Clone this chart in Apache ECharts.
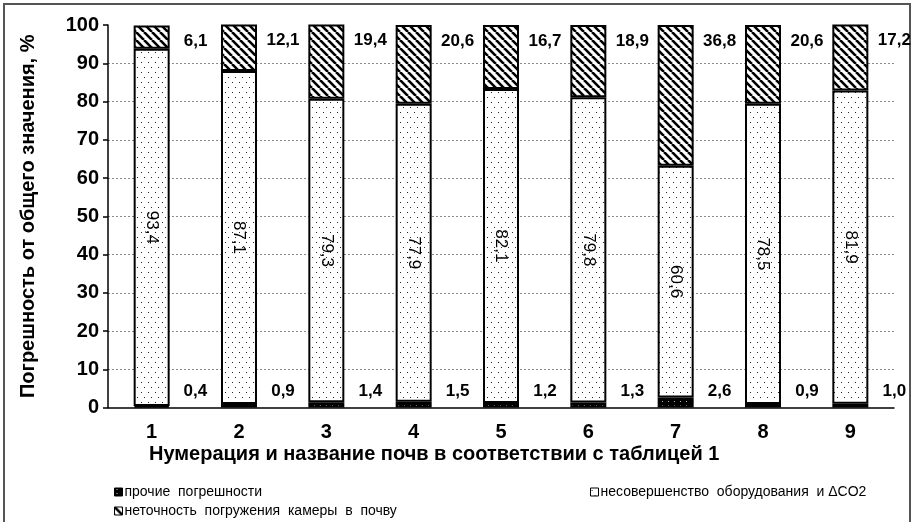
<!DOCTYPE html>
<html>
<head>
<meta charset="utf-8">
<script src="https://cdn.jsdelivr.net/npm/echarts@6/dist/echarts.min.js"></script>
<style>html,body{margin:0;padding:0;background:#fff}</style>
</head>
<body>
<div id="myChart" style="width:913px;height:522px"></div>
<script>
// номера почв и доли погрешностей, %
var soils = ['1', '2', '3', '4', '5', '6', '7', '8', '9'];
var otherErr = [0.4, 0.9, 1.4, 1.5, 1.2, 1.3, 2.6, 0.9, 1.0];
var equipErr = [93.4, 87.1, 79.3, 77.9, 82.1, 79.8, 60.6, 78.5, 81.9];
var immersionErr = [6.1, 12.1, 19.4, 20.6, 16.7, 18.9, 36.8, 20.6, 17.2];
var yMax = 100;
var yStep = 10;

var names = [
  'прочие  погрешности',
  'несовершенство  оборудования  и ΔCO2',
  'неточность  погружения  камеры  в  почву'
];

// штриховки как в Excel
function makePattern(w, h, draw) {
  var c = document.createElement('canvas');
  c.width = w; c.height = h;
  draw(c.getContext('2d'), w, h);
  return { image: c, repeat: 'repeat' };
}
var dots = makePattern(7, 10, function (ctx, w, h) {
  ctx.fillStyle = '#fff'; ctx.fillRect(0, 0, w, h);
  ctx.fillStyle = '#222';
  ctx.fillRect(1, 2, 1, 1);
  ctx.fillRect(4, 7, 1, 1);
});
var blackDots = makePattern(6, 4, function (ctx, w, h) {
  ctx.fillStyle = '#000'; ctx.fillRect(0, 0, w, h);
  ctx.fillStyle = '#bbb';
  ctx.fillRect(2, 1, 1, 1);
});
var hatch = makePattern(8, 8, function (ctx, w, h) {
  ctx.fillStyle = '#fff'; ctx.fillRect(0, 0, w, h);
  ctx.strokeStyle = '#000'; ctx.lineWidth = 2.6;
  ctx.beginPath();
  [-8, 0, 8].forEach(function (k) { ctx.moveTo(k, 0); ctx.lineTo(k + 8, 8); });
  ctx.stroke();
});

function comma(p) { return p.value.toFixed(1).replace('.', ','); }

var font = 'Liberation Sans, Arial, sans-serif';
var barStyle = { borderColor: '#000', borderWidth: 2 };

// сетка без линии на 100
var gridColors = [];
for (var v = 0; v <= yMax; v += yStep) gridColors.push(v === 0 || v === yMax ? 'rgba(0,0,0,0)' : '#8a8a8a');

function legendAt(left, top, name) {
  return {
    left: left, top: top, padding: 0,
    itemWidth: 8, itemHeight: 8, icon: 'rect',
    itemStyle: { borderColor: '#000', borderWidth: 1 },
    textStyle: { fontFamily: font, fontSize: 14, color: '#000', padding: [0, 0, 0, -3] },
    data: [name]
  };
}

var myChart = echarts.init(document.getElementById('myChart'));
myChart.setOption({
  animation: false,
  textStyle: { fontFamily: font },
  grid: { left: 108, right: 19, top: 25, bottom: 114.5 },
  graphic: [{
    type: 'rect', silent: true,
    shape: { x: 4, y: 4, width: 906, height: 560 },
    style: { fill: 'none', stroke: '#555', lineWidth: 2 }
  }],
  title: {
    text: 'Нумерация и название почв в соответствии с таблицей 1',
    left: 149, top: 443, padding: 0,
    textStyle: { fontFamily: font, fontSize: 20, fontWeight: 'bold', color: '#000', lineHeight: 22 }
  },
  legend: [
    legendAt(114, 485, names[0]),
    legendAt(114, 504, names[2]),
    legendAt(590, 485, names[1])
  ],
  xAxis: {
    type: 'category',
    data: soils,
    axisLine: { lineStyle: { color: '#000', width: 1.5 } },
    axisTick: { length: 5, lineStyle: { color: '#000', width: 1.5 } },
    axisLabel: { color: '#000', fontSize: 20, fontWeight: 'bold', margin: 15 }
  },
  yAxis: {
    type: 'value', min: 0, max: yMax, interval: yStep,
    name: 'Погрешность от общего значения, %',
    nameLocation: 'middle', nameGap: 70, nameRotate: 90,
    nameTextStyle: { color: '#000', fontSize: 20, fontWeight: 'bold' },
    axisLine: { show: true, lineStyle: { color: '#000', width: 1.5 } },
    axisTick: { show: true, length: 5, lineStyle: { color: '#000', width: 1.5 } },
    axisLabel: { color: '#000', fontSize: 20, fontWeight: 'bold', margin: 9 },
    splitLine: { show: true, lineStyle: { color: gridColors, type: [2, 2], width: 1 } }
  },
  series: [{
    name: names[0], type: 'bar', stack: 'all', barWidth: 36,
    data: otherErr,
    itemStyle: Object.assign({ color: blackDots }, barStyle),
    label: {
      show: true, position: [62, '100%'], offset: [0, -16],
      align: 'center', verticalAlign: 'middle',
      color: '#000', fontSize: 17, fontWeight: 'bold', formatter: comma
    }
  }, {
    name: names[1], type: 'bar', stack: 'all', barWidth: 36,
    data: equipErr,
    itemStyle: Object.assign({ color: dots }, barStyle),
    label: {
      show: true, position: 'inside', rotate: -90,
      color: '#000', fontSize: 17, formatter: comma
    }
  }, {
    name: names[2], type: 'bar', stack: 'all', barWidth: 36,
    data: immersionErr,
    itemStyle: Object.assign({ color: hatch }, barStyle),
    label: {
      show: true, position: [62, 16],
      align: 'center', verticalAlign: 'middle',
      color: '#000', fontSize: 17, fontWeight: 'bold', formatter: comma
    }
  }]
});
</script>
</body>
</html>
